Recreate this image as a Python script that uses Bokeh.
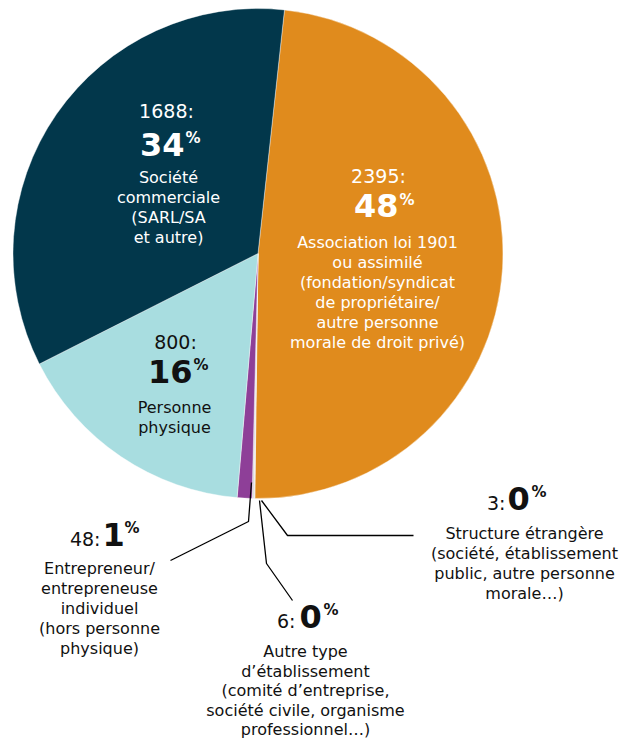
import numpy as np
from bokeh.plotting import figure
from bokeh.models import Range1d, ColumnDataSource
from bokeh.core.properties import value
from bokeh.embed import file_html
from bokeh.resources import INLINE

# ---- data (clockwise from the top) ----
categories = [
    "Association loi 1901 ou assimilé",
    "Structure étrangère",
    "Autre type d'établissement",
    "Entrepreneur/entrepreneuse individuel",
    "Personne physique",
    "Société commerciale",
]
counts = [2395, 3, 6, 48, 800, 1688]
percents = ["48", "0", "0", "1", "16", "34"]
colors = ["#E08B1D", "#D9D9D9", "#D9D9D9", "#8E3F98", "#A8DDE0", "#02374B"]

FONT = "DejaVu Sans"
IMG_H = 742


def Y(y):
    return IMG_H - y


p = figure(width=623, height=742, output_backend="svg", toolbar_location=None,
           x_range=Range1d(0, 623), y_range=Range1d(Y(742), Y(0)),
           min_border=0)
p.axis.visible = False
p.grid.visible = False
p.outline_line_color = None
p.background_fill_color = "white"

# ---- pie ----
cx, cy, r = 257.5, Y(253), 245
offset = np.deg2rad(90 - 6.2)
vals = np.array(counts, dtype=float)
fr = vals / vals.sum() * 2 * np.pi
cum = np.concatenate([[0], np.cumsum(fr)])
starts = offset - cum[:-1]
ends = offset - cum[1:]
src = ColumnDataSource(dict(start=starts, end=ends, color=colors))
p.wedge(x=cx, y=cy, radius=r, start_angle="start", end_angle="end",
        direction="clock", fill_color="color", line_color="white",
        line_width=0.4, source=src)

# ---- leader lines ----
p.line([251, 248, 170], [Y(482), Y(521), Y(560)], line_color="black", line_width=1.3)
p.line([259, 266, 292], [Y(500), Y(563), Y(600)], line_color="black", line_width=1.3)
p.line([261, 287, 413], [Y(500), Y(535), Y(535)], line_color="black", line_width=1.3)

WHITE = "white"
DARK = "#111111"
BODY = 16
BIG = 32
PC = 15
CNT = 19


def txt(x, y, s, size, color, align="center", bold=False):
    p.text(x=[x], y=[Y(y)], text=[s], text_font=value(FONT),
           text_font_size=f"{size}px", text_color=color, text_align=align,
           text_baseline="middle", text_font_style="bold" if bold else "normal")


def pct(xr, yc, num, color):
    # big number right-aligned at xr, superscript % just after
    txt(xr, yc, num, BIG, color, align="right", bold=True)
    txt(xr + 1, yc - 6, "%", PC, color, align="left", bold=True)


def out_pct(x_colon, x_num, x_pc, yc, count, num):
    txt(x_colon, yc + 5, f"{count}:", CNT, DARK, align="right")
    txt(x_num, yc, num, BIG, DARK, align="left", bold=True)
    txt(x_pc, yc - 6, "%", PC, DARK, align="left", bold=True)


def lines(x, y0, step, items, color, size=BODY):
    for i, s in enumerate(items):
        txt(x, y0 + i * step, s, size, color)


# Société commerciale
txt(166, 110, f"{counts[5]}:", CNT, WHITE)
pct(184, 143.5, percents[5], WHITE)
lines(168, 177, 20, ["Société", "commerciale", "(SARL/SA", "et autre)"], WHITE)

# Association
txt(378, 175, f"{counts[0]}:", CNT, WHITE)
pct(398, 205, percents[0], WHITE)
lines(377, 242, 20, ["Association loi 1901", "ou assimilé", "(fondation/syndicat",
                     "de propriétaire/", "autre personne", "morale de droit privé)"], WHITE)

# Personne physique
txt(175, 341, f"{counts[4]}:", CNT, DARK)
pct(192, 370.5, percents[4], DARK)
lines(174, 407, 20, ["Personne", "physique"], DARK)

# Entrepreneur
out_pct(100, 102, 124, 533.5, counts[3], percents[3])
lines(99, 568, 20, ["Entrepreneur/", "entrepreneuse", "individuel",
                    "(hors personne", "physique)"], DARK)

# Structure étrangère
out_pct(505, 507, 531, 497.5, counts[1], percents[1])
lines(524, 533, 20, ["Structure étrangère", "(société, établissement",
                     "public, autre personne", "morale…)"], DARK)

# Autre type
out_pct(295, 299, 323, 615.5, counts[2], percents[2])
lines(305, 651, 19.5, ["Autre type", "d’établissement", "(comité d’entreprise,",
                       "société civile, organisme", "professionnel…)"], DARK)

open("out.html", "w").write(file_html(p, INLINE))
